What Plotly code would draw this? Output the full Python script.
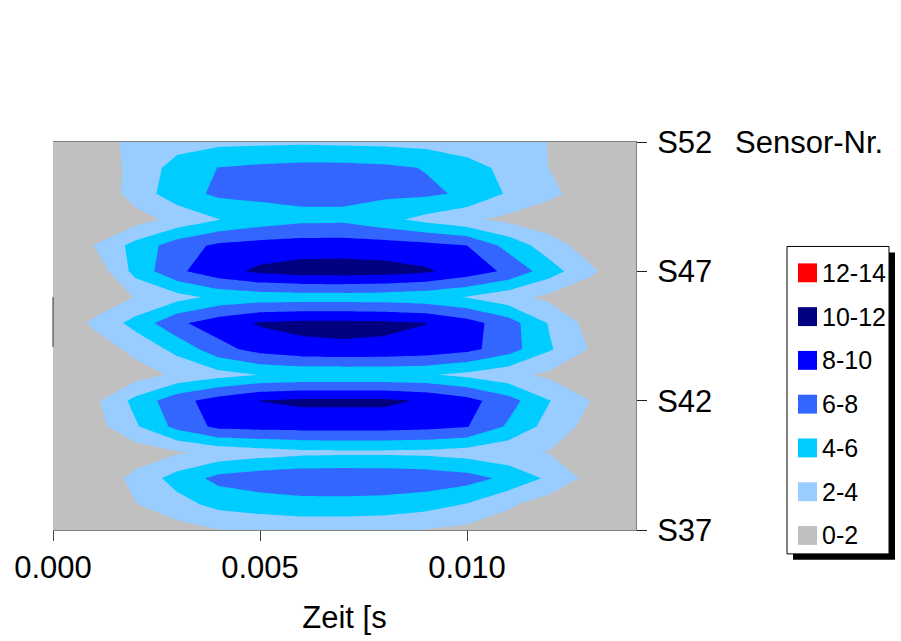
import plotly.graph_objects as go

# ---- data ----
zeit = [0.000, 0.001, 0.002, 0.003, 0.004, 0.005, 0.006, 0.007,
        0.008, 0.009, 0.010, 0.011, 0.012, 0.013, 0.014]
sensoren = [37, 38, 39, 40, 41, 42, 43, 44, 45, 46, 47, 48, 49, 50, 51, 52]

s37 = [0, 0.1, 0.6, 1.2, 1.95, 2.4, 2.6, 2.6, 2.4, 1.95, 1.5, 1.0, 0.5, 0.2, 0]
s38 = [0, 0.4, 1.95, 3.3, 4.6, 5.0, 5.3, 5.3, 5.2, 4.8, 3.9, 2.3, 1.0, 0.3, 0]
s39 = [0, 0.6, 2.6, 4.8, 6.6, 7.2, 7.5, 7.6, 7.5, 7.3, 6.8, 5.5, 3.6, 1.3, 0.2]
s40 = [0, 0.2, 0.9, 1.8, 2.6, 3.1, 3.5, 3.6, 3.6, 3.5, 3.1, 2.5, 1.9, 1.0, 0.2]
s41 = [0.1, 1.2, 3.75, 6.6, 8.5, 8.7, 8.8, 8.8, 8.8, 8.6, 8.1, 5.7, 3.2, 1.3, 0.2]
s42 = [0.2, 1.6, 4.6, 7.3, 8.9, 10.05, 10.4, 10.4, 10.4, 9.8, 8.7, 6.8, 4.05, 1.95, 0.3]
s43 = [0, 0.2, 1.1, 2.4, 3.3, 4.05, 4.3, 4.3, 4.3, 4.2, 3.5, 2.6, 1.6, 0.6, 0.1]
s44 = [0, 0.9, 2.6, 4.6, 7.3, 8.8, 9.5, 9.7, 9.6, 9.3, 8.6, 6.9, 4.2, 1.8, 0.3]
s45 = [0.3, 2.4, 4.7, 7.6, 9.1, 10.2, 10.5, 10.5, 10.4, 10.05, 8.8, 6.9, 3.8, 1.2, 0.2]
s46 = [0, 0.6, 2.1, 3.3, 4.5, 4.9, 5.0, 5.0, 4.9, 4.6, 3.9, 2.7, 1.5, 0.6, 0.1]
s47 = [0.3, 0.56, 4.7, 7.6, 9.3, 10.4, 10.9, 11.0, 10.8, 10.3, 9.1, 7.6, 4.9, 2.35, 0.3]
s48 = [0.2, 2.05, 4.7, 7.05, 8.4, 8.8, 9.0, 9.0, 8.9, 8.6, 8.0, 5.3, 2.9, 1.0, 0.2]
s49 = [0, 0.3, 1.2, 2.6, 3.95, 4.9, 5.5, 5.6, 4.6, 3.4, 2.4, 1.5, 0.8, 0.4, 0.1]
s50 = [0, 0.3, 2.9, 5.1, 6.4, 6.5, 6.5, 6.4, 6.4, 6.35, 5.7, 3.75, 2.4, 1.1, 0.3]
s51 = [0, 0.4, 2.8, 4.7, 6.05, 6.4, 6.6, 6.6, 6.4, 5.9, 4.7, 3.5, 1.95, 0.8, 0.2]
s52 = [0, 0.5, 3.0, 3.3, 3.5, 3.6, 3.7, 3.6, 3.5, 3.3, 3.0, 2.6, 1.95, 1.0, 0.3]

x_tickvals = [0.000, 0.005, 0.010]
x_ticktext = ["0.000", "0.005", "0.010"]
y_tickvals = [37, 42, 47, 52]
y_ticktext = ["S37", "S42", "S47", "S52"]

legend_labels = ["12-14", "10-12", "8-10", "6-8", "4-6", "2-4", "0-2"]
legend_colors = ["#FF0000", "#000080", "#0000FF", "#3366FF", "#00CCFF", "#99CCFF", "#C0C0C0"]

z = [s37, s38, s39, s40, s41, s42, s43, s44, s45, s46, s47, s48, s49, s50, s51, s52]

# ---- figure ----
W, H = 901, 641
L, R, T, B = 53, 636, 142, 532   # plot area in pixels


def px(xp):
    return (xp - L) / (R - L)


def py(yp):
    return (B - yp) / (B - T)


# discrete colour scale: bands centred on 1,3,5,...,13 (levels 2..12)
fill_colors = legend_colors[::-1]
n = len(fill_colors)
cs = []
for i, c in enumerate(fill_colors):
    lo = 0 if i == 0 else (2 * i - 1) / (2 * (n - 1))
    hi = 1 if i == n - 1 else (2 * i + 1) / (2 * (n - 1))
    cs.append([lo, c])
    cs.append([hi, c])

fig = go.Figure()
fig.add_trace(go.Contour(
    x=zeit, y=sensoren, z=z,
    colorscale=cs,
    autocontour=False,
    contours=dict(start=2, end=12, size=2, coloring="fill", showlines=False),
    line=dict(width=0, smoothing=0),
    showscale=False,
    hoverinfo="skip",
))

font = "Liberation Sans, Arial, sans-serif"

fig.update_layout(
    width=W, height=H,
    margin=dict(l=L, r=W - R, t=T, b=H - B, pad=0),
    paper_bgcolor="white",
    plot_bgcolor="#C0C0C0",
    showlegend=False,
    font=dict(family=font, size=31, color="black"),
    xaxis=dict(
        range=[0, 0.01408],
        tickvals=x_tickvals, ticktext=x_ticktext,
        ticks="outside", ticklen=10, tickcolor="#404040", tickwidth=1,
        showline=True, linecolor="#808080", linewidth=1, mirror=True,
        showgrid=False, zeroline=False,
        tickfont=dict(size=31),
        title=dict(text="Zeit [s", font=dict(size=31), standoff=22),
    ),
    yaxis=dict(
        range=[37, 52], side="right",
        tickvals=y_tickvals, ticktext=y_ticktext,
        ticks="outside", ticklen=10, tickcolor="#202020", tickwidth=1,
        showline=True, linecolor="#808080", linewidth=1, mirror=False,
        showgrid=False, zeroline=False,
        tickfont=dict(size=31),
        ticklabelstandoff=4,
    ),
)

shapes = []
annotations = []

# short left border artefact
shapes.append(dict(type="line", xref="paper", yref="paper",
                   x0=0, x1=0, y0=py(298), y1=py(348),
                   line=dict(color="#303030", width=1)))

# axis title on the right
annotations.append(dict(text="Sensor-Nr.", xref="paper", yref="paper",
                        x=px(733), y=py(143), xanchor="left", yanchor="middle",
                        showarrow=False, font=dict(size=31, family=font)))

# legend box with shadow
bx0, bx1, by0, by1 = 787, 889, 247, 556
shapes.append(dict(type="rect", xref="paper", yref="paper",
                   x0=px(bx0 + 6), x1=px(bx1 + 6), y0=py(by0 + 6), y1=py(by1 + 6),
                   fillcolor="black", line=dict(width=0), layer="above"))
shapes.append(dict(type="rect", xref="paper", yref="paper",
                   x0=px(bx0), x1=px(bx1), y0=py(by0), y1=py(by1),
                   fillcolor="white", line=dict(color="black", width=1), layer="above"))

for k, (lab, col) in enumerate(zip(legend_labels, legend_colors)):
    yc = 273.5 + 44 * k
    shapes.append(dict(type="rect", xref="paper", yref="paper",
                       x0=px(798), x1=px(817), y0=py(yc - 9.5), y1=py(yc + 9.5),
                       fillcolor=col, line=dict(width=0), layer="above"))
    annotations.append(dict(text=lab, xref="paper", yref="paper",
                            x=px(820), y=py(yc), xanchor="left", yanchor="middle",
                            showarrow=False, font=dict(size=25, family=font)))

fig.update_layout(shapes=shapes, annotations=annotations)

fig.write_html("out.html")
